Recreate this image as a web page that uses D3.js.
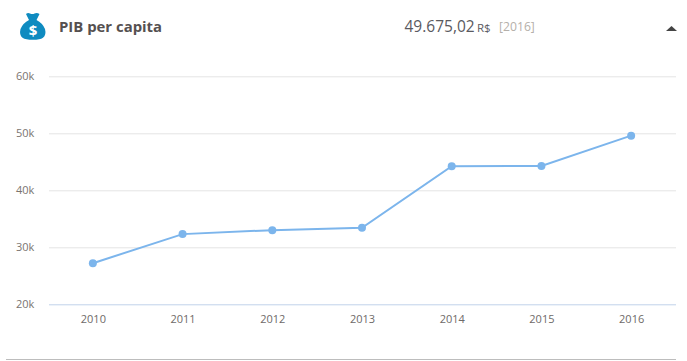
<!DOCTYPE html>
<html><head><meta charset="utf-8">
<script src="https://cdn.jsdelivr.net/npm/d3@7"></script>
<style>html,body{margin:0;padding:0;background:#fff;overflow:hidden}svg{display:block;font-family:"Open Sans",sans-serif}</style>
</head><body><div id="c"></div>
<script>
const categories=["2010","2011","2012","2013","2014","2015","2016"];
const values=[27300,32400,33100,33500,44300,44350,49675];
const yTicks=[20000,30000,40000,50000,60000];
const title="PIB per capita", headline="49.675,02", unit="R$", yearTag="[2016]";

const svg=d3.select("#c").append("svg").attr("width",687).attr("height",361);
const x=d3.scaleBand().domain(categories).range([48,676]);
const y=d3.scaleLinear().domain([20000,60000]).range([304.8,76.8]);
const cx=d=>x(d)+x.bandwidth()/2;

// grid
svg.append("g").selectAll("line").data(yTicks).join("line")
 .attr("x1",49).attr("x2",676).attr("y1",d=>y(d)).attr("y2",d=>y(d))
 .attr("stroke",d=>d===20000?"#c0d2ea":"#e4e4e4").attr("stroke-width",1);
// y axis labels
svg.append("g").selectAll("text").data(yTicks).join("text")
 .attr("x",16).attr("y",d=>y(d)+3.2).attr("font-size",11).attr("fill","#7a7470")
 .text(d=>d3.format("d")(d/1000)+"k");
// x labels
svg.append("g").selectAll("text").data(categories).join("text")
 .attr("x",d=>cx(d)+0.5).attr("y",323).attr("text-anchor","middle").attr("font-size",11).attr("fill","#6e6a68").text(d=>d);
// line
const pts=categories.map((c,i)=>({c,v:values[i]}));
svg.append("path").datum(pts).attr("fill","none").attr("stroke","#7cb5ec").attr("stroke-width",2)
 .attr("d",d3.line().x(d=>cx(d.c)).y(d=>y(d.v)));
svg.append("g").selectAll("circle").data(pts).join("circle")
 .attr("cx",d=>cx(d.c)).attr("cy",d=>y(d.v)).attr("r",4).attr("fill","#7cb5ec");
// bottom rule
svg.append("line").attr("x1",6).attr("x2",676).attr("y1",359.5).attr("y2",359.5).attr("stroke","#bdbdbd");
// header
const icon=svg.append("g");
icon.append("path").attr("fill","#0f8bc0")
 .attr("d","M26 14 Q28 12.5 30 13.5 Q32.5 14.5 34.5 13.5 Q37 12.5 39.5 14 L36.5 20 Q42.5 23 45 29 Q46.5 35 43 37.8 Q40 39.8 33 39.8 Q25.5 39.8 22.5 37.8 Q19 35 20.5 29 Q23 23 29 20 Z");
icon.append("text").attr("x",33).attr("y",35.5).attr("text-anchor","middle").attr("font-size",15).attr("font-weight",700).attr("fill","#fff").text("$");
svg.append("text").attr("x",59).attr("y",32).attr("font-size",14.9).attr("font-weight",700).attr("fill","#555050").text(title);
svg.append("text").attr("x",404.5).attr("y",32).attr("font-size",15.5).attr("fill","#5a5a5f").text(headline);
svg.append("text").attr("x",477).attr("y",32).attr("font-size",11.5).attr("fill","#5a5a5f").text(unit);
svg.append("text").attr("x",499).attr("y",31).attr("font-size",12.2).attr("fill","#b5b0aa").text(yearTag);
svg.append("path").attr("d",d3.line()([[666,31],[671.5,26],[677,31]])+"Z").attr("fill","#444");
</script></body></html>
